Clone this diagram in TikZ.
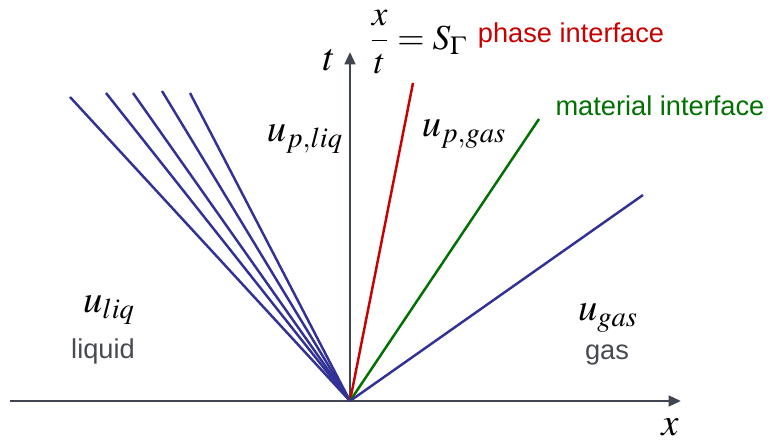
\documentclass[tikz,border=0pt]{standalone}
\usepackage{amsmath}
\usepackage{mathptmx}
\usepackage{fontspec}
\setmainfont{Liberation Sans}
\usepackage{tikz}
\usetikzlibrary{arrows.meta, positioning}
\usepackage{xcolor}

\definecolor{axisgray}{RGB}{64,70,80}
\definecolor{fanblue}{RGB}{50,50,150}
\definecolor{phasered}{RGB}{200,0,0}
\definecolor{matgreen}{RGB}{0,112,0}
\definecolor{txtgray}{RGB}{70,74,82}

\begin{document}
\begin{tikzpicture}[
  x=0.02cm, y=-0.02cm,
  axis/.style={draw=axisgray, line width=1.5pt, -{Triangle[length=7pt,width=6pt]}},
  wave/.style={line width=1.4pt},
  mlbl/.style={font=\fontsize{22}{24}\selectfont, inner sep=0pt},
  tlbl/.style={font=\fontsize{15.5}{18}\selectfont, inner sep=0pt}
]
\useasboundingbox (0,0) rectangle (769,442);

% Origin and ray ends
\coordinate (O) at (350,401);
\coordinate (f1) at (70,97);
\coordinate (f2) at (106,93);
\coordinate (f3) at (133,93);
\coordinate (f4) at (162,91);
\coordinate (f5) at (190,93);
\coordinate (ph) at (413,83);
\coordinate (mat) at (539,119);
\coordinate (sh) at (643,195);
\coordinate (xs) at (10,401);
\coordinate (xe) at (681,401);
\coordinate (te) at (350,52);

% Axes
\draw[axis] (xs) -- (xe);
\draw[axis] (O) -- (te);

% Rarefaction fan (liquid side)
\draw[wave, fanblue] (O) -- (f1);
\draw[wave, fanblue] (O) -- (f2);
\draw[wave, fanblue] (O) -- (f3);
\draw[wave, fanblue] (O) -- (f4);
\draw[wave, fanblue] (O) -- (f5);

% Interfaces and shock
\draw[wave, phasered] (O) -- (ph);
\draw[wave, matgreen] (O) -- (mat);
\draw[wave, fanblue] (O) -- (sh);

% Labels
\node[mlbl] (tlab) at (329,60) {$t$};
\node[mlbl] (xlab) at (670,427) {$x$};
\node[mlbl, font=\fontsize{20}{22}\selectfont, anchor=east] (speed) at (467,42) {$\dfrac{x}{t}=S_\Gamma$};
\node[tlbl, phasered] (phlab) at (571,35) {phase interface};
\node[tlbl, matgreen] (matlab) at (660,106) {material interface};
\node[mlbl] (uplq) at (305,139) {$u_{p,liq}$};
\node[mlbl] (upgs) at (464,134) {$u_{p,gas}$};
\node[mlbl] (ulq) at (109,310) {$u_{liq}$};
\node[tlbl, txtgray] (liq) at (103,351) {liquid};
\node[mlbl] (ugs) at (608,318) {$u_{gas}$};
\node[tlbl, txtgray] (gas) at (607,355) {gas};

\end{tikzpicture}
\end{document}
